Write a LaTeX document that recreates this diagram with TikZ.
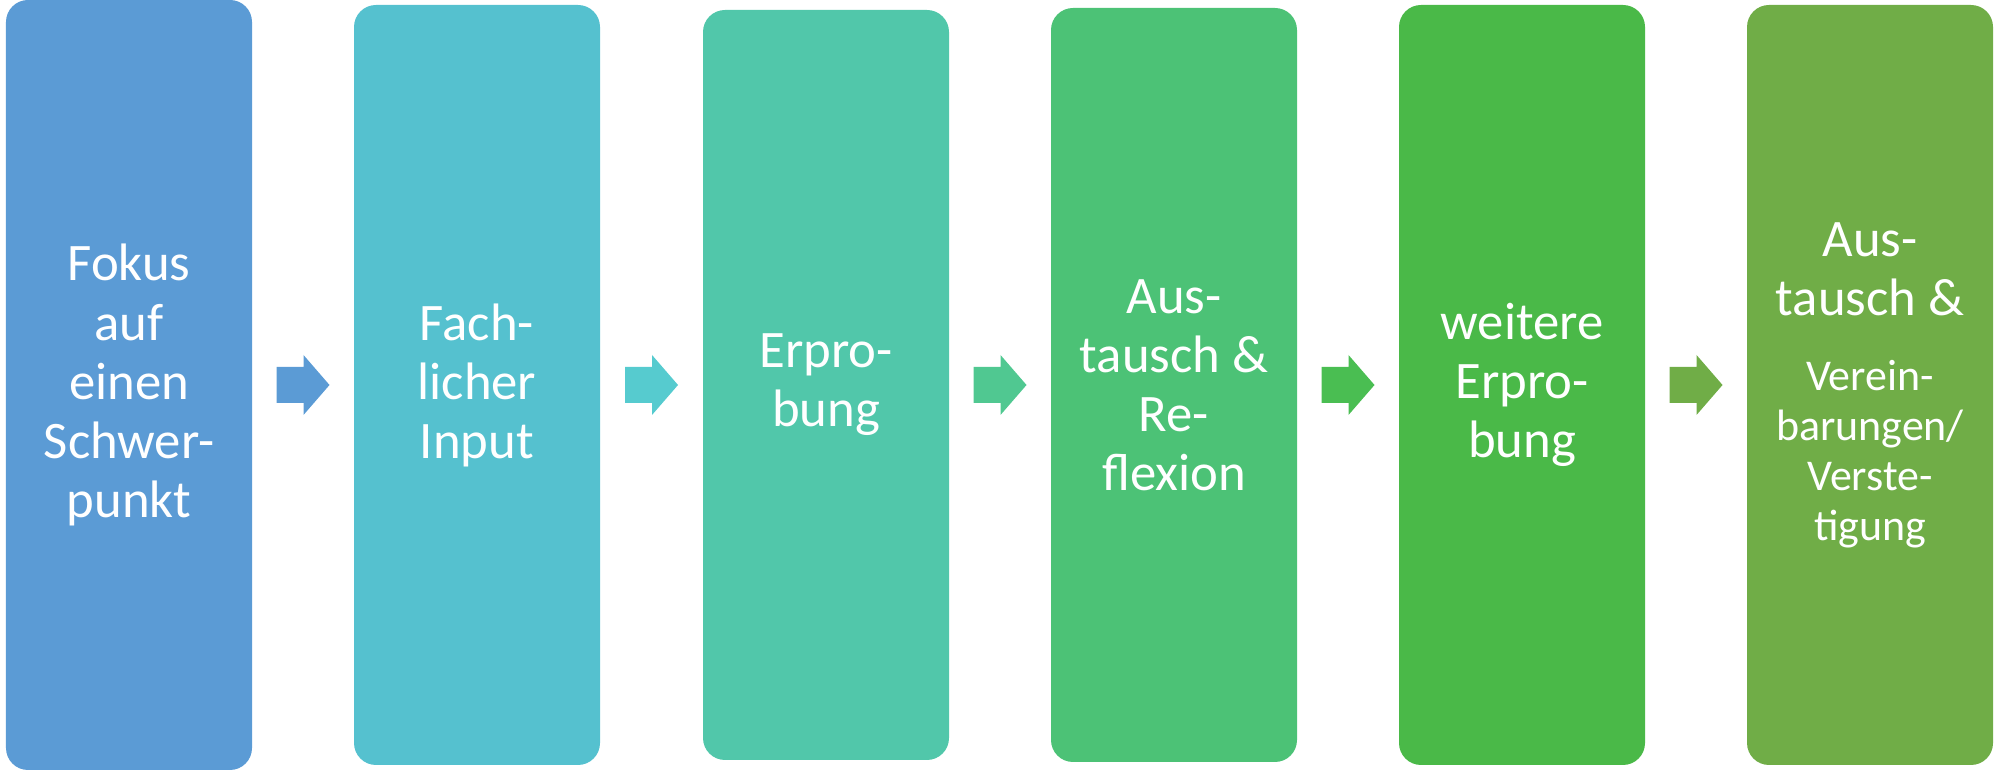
\documentclass[tikz,border=0pt]{standalone}
\usepackage{fontspec}
\setmainfont{Carlito}
\usepackage{xcolor}
\usepackage{tikz}
\usetikzlibrary{calc}

\definecolor{boxA}{HTML}{5B9BD5}
\definecolor{boxB}{HTML}{55C1CF}
\definecolor{boxC}{HTML}{51C7AA}
\definecolor{boxD}{HTML}{4CC276}
\definecolor{boxE}{HTML}{4AB948}
\definecolor{boxF}{HTML}{70AD47}
\definecolor{arrA}{HTML}{5B9BD5}
\definecolor{arrB}{HTML}{56CBCF}
\definecolor{arrC}{HTML}{50C891}
\definecolor{arrD}{HTML}{4ABE52}
\definecolor{arrE}{HTML}{70AD47}

\newcommand{\smallphase}{\fontsize{12.5}{14.2}\selectfont}

\tikzset{
  phase/.style={rounded corners=0.22cm, minimum width=2.46cm, inner sep=0pt,
    text=white, align=center, font=\fontsize{15}{16.8}\selectfont},
}

\begin{document}
\begin{tikzpicture}
\useasboundingbox (0,0) rectangle (19.95,7.71);
\node[phase, fill=boxA, minimum height=7.70cm] (fokus) at (1.29,3.86) {Fokus\\auf\\einen\\Schwer-\\punkt};
\node[phase, fill=boxB, minimum height=7.60cm] (input) at (4.77,3.86) {Fach-\\licher\\Input};
\node[phase, fill=boxC, minimum height=7.50cm] (erprob) at (8.26,3.86) {Erpro-\\bung};
\node[phase, fill=boxD, minimum height=7.54cm] (reflex) at (11.74,3.86) {Aus-\\tausch \&\\Re-\\flexion};
\node[phase, fill=boxE, minimum height=7.60cm] (weiter) at (15.22,3.86) {weitere\\Erpro-\\bung};
\node[phase, fill=boxF, minimum height=7.60cm] (verein) at (18.70,3.86) {Aus-\\tausch \&\\[0.16cm]\smallphase Verein-\\[-0.09cm]\smallphase barungen/\\[-0.09cm]\smallphase Verste-\\[-0.09cm]\smallphase tigung};

% block arrows between the phases
\foreach \a/\b/\c in {fokus/input/arrA, input/erprob/arrB, erprob/reflex/arrC, reflex/weiter/arrD, weiter/verein/arrE}{
  \coordinate (m) at ($(\a.east)!0.5!(\b.west)$);
  \fill[\c] ($(m)+(-0.265,-0.18)$) -- ++(0.27,0) -- ++(0,-0.12) -- ++(0.26,0.30)
    -- ++(-0.26,0.30) -- ++(0,-0.12) -- ++(-0.27,0) -- cycle;
}
\end{tikzpicture}
\end{document}
